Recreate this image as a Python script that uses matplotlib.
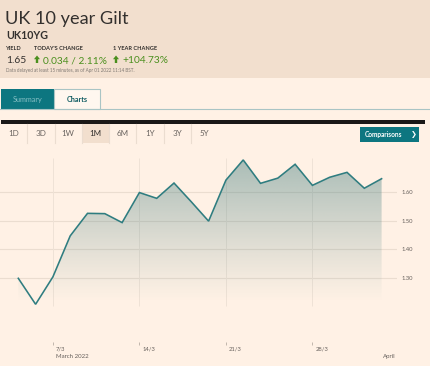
'''UK 10 year gilt - FT markets page, 1M chart'''

import numpy as np
import matplotlib.pyplot as plt
from matplotlib.patches import Rectangle, Polygon

plt.rcParams['font.family'] = ['Lato', 'DejaVu Sans']

# trading days shown on the 1M chart
dates = ['3/3', '4/3', '7/3', '8/3', '9/3', '10/3', '11/3', '14/3', '15/3', '16/3', '17/3',
         '18/3', '21/3', '22/3', '23/3', '24/3', '25/3', '28/3', '29/3', '30/3', '31/3', '1/4']
yields = [1.300, 1.210, 1.305, 1.447, 1.525, 1.524, 1.493, 1.597, 1.577, 1.630, 1.565,
          1.498, 1.640, 1.710, 1.629, 1.647, 1.695, 1.622, 1.650, 1.667, 1.612, 1.645]
week_labels = ['7/3', '14/3', '21/3', '28/3']
y_ticks = [1.30, 1.40, 1.50, 1.60]
periods = ['1D', '3D', '1W', '1M', '6M', '1Y', '3Y', '5Y']
selected_period = '1M'

# quote header
name = 'UK 10 year Gilt'
symbol = 'UK10YG'
last_yield = '1.65'
today_change = '0.034 / 2.11%'
year_change = '+104.73%'
delayed_note = 'Data delayed at least 15 minutes, as of Apr 01 2022 11:14 BST.'

PAGE = '#FFF1E5'
HEADER = '#F2DFCE'
TEAL = '#0D7680'
INK = '#33302E'
GREEN = '#4A8F1D'
LINE = '#2F7D80'

W, H = 431, 366
fig = plt.figure(figsize=(W / 100, H / 100), dpi=100)
fig.patch.set_facecolor(PAGE)

# page furniture in pixel coordinates
bg = fig.add_axes([0, 0, 1, 1])
bg.set_xlim(0, W)
bg.set_ylim(H, 0)
bg.axis('off')
bg.set_zorder(0)

bg.add_patch(Rectangle((0, 0), W, 78, color=HEADER, lw=0))
bg.text(5.5, 24.3, name, fontsize=13.1, color=INK)
bg.text(6, 39.2, symbol, fontsize=7.7, fontweight='bold', color=INK)
bg.text(6, 49.5, 'YIELD', fontsize=4.1, fontweight='bold', color=INK)
bg.text(34, 49.5, "TODAY'S CHANGE", fontsize=4.1, fontweight='bold', color=INK)
bg.text(113, 49.5, '1 YEAR CHANGE', fontsize=4.1, fontweight='bold', color=INK)
bg.text(6, 63.4, last_yield, fontsize=7.4, color=INK)


def up_arrow(x, y_base):
    # small filled arrow: head + stem, 6px wide, 7px tall
    pts = [(x, y_base - 3.8), (x + 3, y_base - 7.5), (x + 6, y_base - 3.8),
           (x + 4.2, y_base - 3.8), (x + 4.2, y_base), (x + 1.8, y_base),
           (x + 1.8, y_base - 3.8)]
    bg.add_patch(Polygon(pts, closed=True, color=GREEN, lw=0))


up_arrow(34, 63)
bg.text(43, 63.4, today_change, fontsize=7.3, color=GREEN)
up_arrow(113, 63)
bg.text(122.5, 63.4, year_change, fontsize=7.3, color=GREEN)
bg.text(6, 72.3, delayed_note, fontsize=3.3, color='#807973')

# tabs
bg.plot([0, W], [109.3, 109.3], color='#A9C4C4', lw=0.8)
bg.add_patch(Rectangle((1, 89), 53.3, 20.3, color=TEAL, lw=0))
bg.text(27.6, 99.5, 'Summary', fontsize=5.2, color='#86BFC4', ha='center', va='center')
bg.add_patch(Rectangle((54.3, 89), 45.4, 20.3, facecolor='#FFF7EF',
                       edgecolor='#A9C4C4', lw=0.8))
bg.text(77, 99.5, 'Charts', fontsize=5.2, fontweight='bold', color='#0D5A60',
        ha='center', va='center')

# black rule and period buttons
bg.add_patch(Rectangle((1, 120), 424, 3.6, color='#1A1817', lw=0))
step = 27.3
for i, p in enumerate(periods):
    left = i * step
    if p == selected_period:
        bg.add_patch(Rectangle((left, 123.6), step, 19.4, color=HEADER, lw=0))
    if i < len(periods) - 1:
        bg.plot([left + step, left + step], [124, 143], color='#EBDDD0', lw=0.8)
    bg.text(left + step / 2 - 0.3, 134, p, fontsize=5.8, ha='center', va='center',
            color=INK if p == selected_period else '#6A6460')

bg.add_patch(Rectangle((360, 126.7), 59.3, 15, color=TEAL, lw=0))
bg.text(365, 134.2, 'Comparisons', fontsize=4.7, fontweight='bold', color='white',
        va='center')
bg.text(413.5, 134.2, '\u276F', fontsize=5, fontweight='bold', color='white',
        va='center', ha='center', family='DejaVu Sans')

# chart: x axis = trading day index
px_left, px_right, px_top, px_bottom = 0, 397, 155, 342
ax = fig.add_axes([px_left / W, (H - px_bottom) / H,
                   (px_right - px_left) / W, (px_bottom - px_top) / H])
ax.set_zorder(1)
ax.set_facecolor('none')

x = np.arange(len(dates))
y = np.array(yields)

for s in ax.spines.values():
    s.set_visible(False)

for v in y_ticks:
    ax.axhline(v, color='#EBDDD0', lw=0.8, zorder=1)
week_idx = [dates.index(d) for d in week_labels]
ax.vlines(week_idx, 1.204, 1.716, color='#EFE2D6', lw=0.7, zorder=1)

# gradient area under the line
fill_base = 1.2145
top = y.max()
grad = np.zeros((100, 1, 4))
grad[..., 0] = 50 / 255
grad[..., 1] = 115 / 255
grad[..., 2] = 118 / 255
grad[..., 3] = np.linspace(0.45, 0.0, 100)[:, None] ** 1.1
im = ax.imshow(grad, aspect='auto', extent=[x[0], x[-1], fill_base, top],
               origin='upper', zorder=2, interpolation='bilinear')
verts = [(x[0], fill_base)] + list(zip(x, y)) + [(x[-1], fill_base)]
clip = Polygon(verts, closed=True, facecolor='none', edgecolor='none')
ax.add_patch(clip)
im.set_clip_path(clip)
ax.set_xlim(-1.058, 21.89)
ax.set_ylim(1.0794, 1.7271)

ax.plot(x, y, color=LINE, lw=1.15, zorder=3, solid_joinstyle='miter')

ax.yaxis.tick_right()
ax.set_yticks(y_ticks)
ax.set_yticklabels(['%.2f' % v for v in y_ticks])
ax.tick_params(axis='y', length=0, pad=3, labelsize=4.2, labelcolor='#66605C')

ax.set_xticks(week_idx)
ax.set_xticklabels([])
ax.tick_params(axis='x', length=2.2, width=0.6, color='#B8ADA4', direction='out')
for i, lab in zip(week_idx, week_labels):
    ax.annotate(lab, (i, 0), xycoords=('data', 'axes fraction'), xytext=(2.2, -3.2),
                textcoords='offset points', fontsize=4.2, color='#66605C', va='top')
ax.annotate('March 2022', (week_idx[0], 0), xycoords=('data', 'axes fraction'),
            xytext=(2.2, -8.8), textcoords='offset points', fontsize=4.4,
            color='#66605C', va='top')
ax.annotate('April', (len(dates) - 1, 0), xycoords=('data', 'axes fraction'),
            xytext=(1.0, -8.8), textcoords='offset points', fontsize=4.4,
            color='#66605C', va='top')

fig.savefig('out.png', dpi=100, facecolor=PAGE)
